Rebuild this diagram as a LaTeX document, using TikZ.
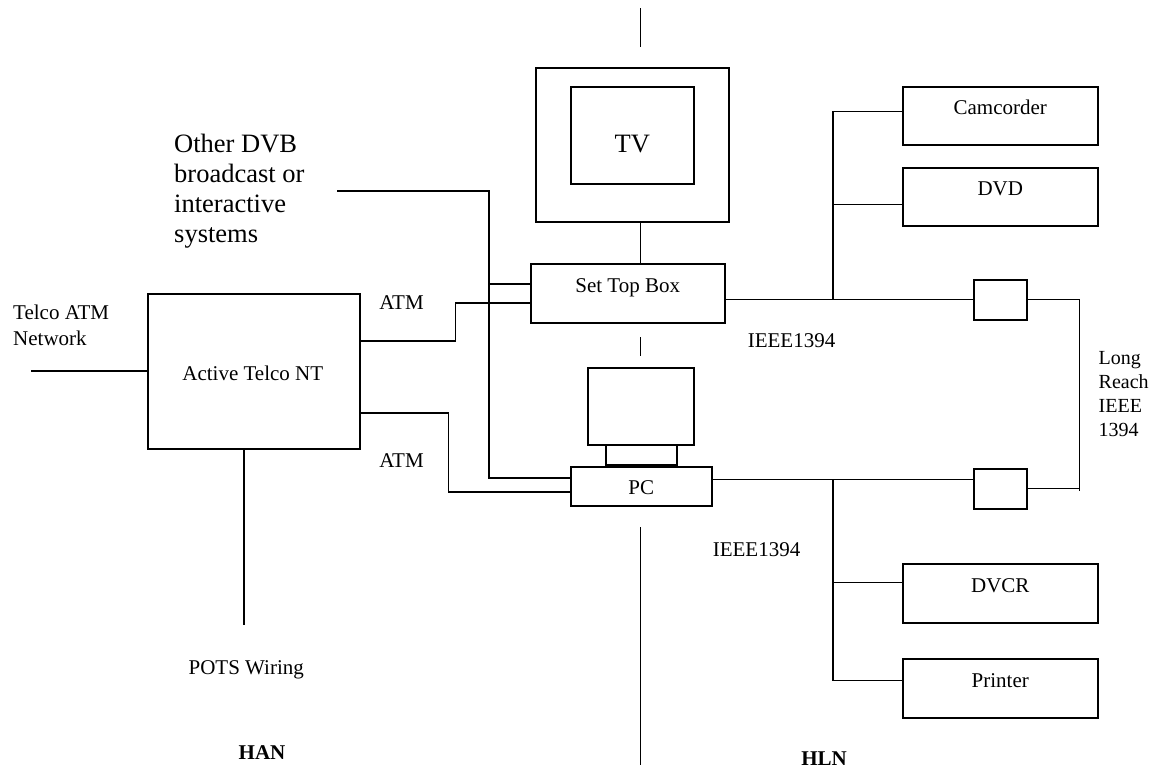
\documentclass[tikz,border=0pt]{standalone}
\usepackage{fontspec}
\setmainfont{Liberation Serif}
\tikzset{
  box/.style={draw,line width=1.5pt,anchor=north west,inner sep=0pt},
  txt/.style={anchor=base,inner sep=0pt,font=\fontsize{21}{26}\selectfont},
  bigtxt/.style={inner sep=0pt,font=\fontsize{26.5}{30}\selectfont},
  wire/.style={line width=1.8pt},
  lwire/.style={line width=1.3pt},
  fwire/.style={line width=0.9pt}
}
\begin{document}
\begin{tikzpicture}[x=1pt,y=-1pt]
\useasboundingbox (0,0) rectangle (1154,774);

% home area boxes
\node [box,minimum width=212pt,minimum height=155pt] (nt) at (147,293) {};
\node [txt] (nt-1) at ([xshift=-1pt,yshift=-87pt]nt.north) {Active Telco NT};
\node [box,minimum width=193pt,minimum height=154pt] (tv) at (535,67) {};
\node [box,minimum width=123pt,minimum height=97pt] (tv-1) at (570,86) {};
\node [bigtxt,anchor=base] (tv-2) at ([yshift=-66pt]tv-1.north) {TV};
\node [box,minimum width=194pt,minimum height=59pt] (stb) at (530,263) {};
\node [txt] (stb-1) at ([yshift=-29pt]stb.north) {Set Top Box};
\node [box,minimum width=106pt,minimum height=77pt] (pc-1) at (587,367) {};
\node [box,minimum width=71pt,minimum height=20pt] (pc-2) at (605,444) {};
\node [box,minimum width=141pt,minimum height=39pt] (pc) at (570,466) {};
\node [txt] (pc-3) at ([yshift=-28pt]pc.north) {PC};

% 1394 devices
\node [box,minimum width=195pt,minimum height=58pt] (cam) at (902,86) {};
\node [txt] (cam-1) at ([yshift=-28pt]cam.north) {Camcorder};
\node [box,minimum width=195pt,minimum height=58pt] (dvd) at (902,167) {};
\node [txt] (dvd-1) at ([yshift=-28pt]dvd.north) {DVD};
\node [box,minimum width=195pt,minimum height=59pt] (dvcr) at (902,563) {};
\node [txt] (dvcr-1) at ([yshift=-29pt]dvcr.north) {DVCR};
\node [box,minimum width=195pt,minimum height=59pt] (prn) at (902,658) {};
\node [txt] (prn-1) at ([yshift=-29pt]prn.north) {Printer};
\node [box,minimum width=53pt,minimum height=40pt] (lr-1) at (973,279) {};
\node [box,minimum width=53pt,minimum height=40pt] (lr-2) at (973,468) {};

% labels
\node [txt,anchor=north west,align=left] (telco) at ([xshift=-134pt,yshift=-12pt]nt.north west) {Telco ATM\\Network};
\node [bigtxt,anchor=north west,align=left] (dvb-1) at ([xshift=27pt,yshift=159pt]nt.north west) {Other DVB\\broadcast or\\interactive\\systems};
\node [txt] (atm-1) at ([xshift=41pt,yshift=-16pt]nt.north east) {ATM};
\node [txt] (atm-2) at ([xshift=41pt,yshift=-18pt]nt.south east) {ATM};
\node [txt] (pots) at ([xshift=-7.5pt,yshift=-225pt]nt.south) {POTS Wiring};
\node [txt] (ieee-1) at ([xshift=66pt,yshift=-24pt]stb.south east) {IEEE1394};
\node [txt] (ieee-2) at ([xshift=44pt,yshift=-50pt]pc.south east) {IEEE1394};
\node [inner sep=0pt,anchor=north west,align=left,font=\fontsize{20}{24}\selectfont] (lr-3) at ([xshift=71pt,yshift=-31pt]lr-1.south east) {Long\\Reach\\IEEE\\1394};
\node [txt,font=\fontsize{21}{26}\selectfont\bfseries] (han) at (262,759) {HAN};
\node [txt,font=\fontsize{21}{26}\selectfont\bfseries] (hln) at (824,765) {HLN};

% divider
\draw[fwire] (640,8)--(640,47);
\draw[fwire] (640,337)--(640,356);
\draw[fwire] (640,527)--(640,765);

% left side links
\coordinate (dvb) at (337,191);
\draw[wire] (nt.west)--++(-116,0);
\draw[wire] ([xshift=-10pt]nt.south)--++(0,175);
\draw[wire] ([yshift=-48pt]nt.north east)--++(95,0)|-([yshift=-9.5pt]stb.west);
\draw[wire] ([yshift=-120pt]nt.north east)--++(88,0)|-([yshift=-5.5pt]pc.west);
\draw[wire] (dvb)--++(152,0)|-([yshift=8.5pt]pc.west);
\draw[wire] ([yshift=9.5pt]stb.west)--++(-41,0);
\draw[lwire] ([xshift=8.5pt]tv.south)--([xshift=8.5pt]tv.south |- stb.north);

% 1394 bus
\coordinate (j1) at (833,299);
\coordinate (j2) at (833,479);
\draw[lwire] ([yshift=-6.5pt]stb.east)--(lr-1.west);
\draw[lwire] (j1)|-([yshift=4pt]cam.west);
\draw[lwire] ([yshift=-8pt]dvd.west)--([yshift=-8pt]dvd.west -| j1);
\draw[lwire] ([yshift=6.5pt]pc.east)--([yshift=6.5pt]pc.east -| lr-2.west);
\draw[lwire] (j2)|-([yshift=7.5pt]prn.west);
\draw[lwire] ([yshift=10.5pt]dvcr.west)--([yshift=10.5pt]dvcr.west -| j2);
\draw[fwire] (lr-1.east)--++(52,0)--++(0,191);
\draw[fwire] (lr-2.east)--++(52,0);

\end{tikzpicture}
\end{document}
